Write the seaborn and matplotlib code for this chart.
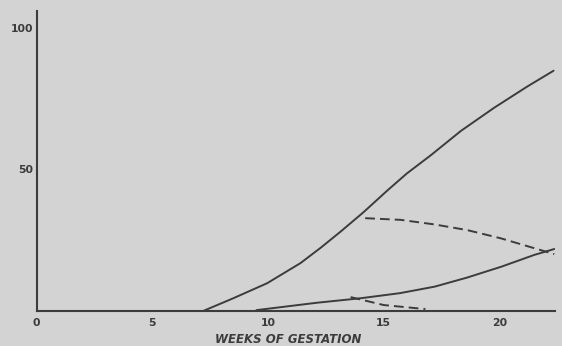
import matplotlib
matplotlib.use("Agg")
import matplotlib.pyplot as plt
import seaborn as sns
import pandas as pd

# Main solid curve
main_x = [7.2, 8.5, 9.96, 11.4, 12.27, 13.13, 14.14, 15.16, 16.0, 17.03, 18.33, 19.77, 21.2, 22.34]
main_y = [0.0, 4.5, 9.8, 16.9, 22.3, 28.0, 35.0, 42.6, 48.6, 55.0, 63.6, 71.8, 79.3, 84.9]

# Upper dashed curve
upd_x = [14.2, 15.73, 17.18, 18.6, 20.05, 21.5, 22.37]
upd_y = [32.8, 32.2, 30.6, 28.6, 25.7, 22.2, 20.1]

# Lower solid curve
low_x = [9.5, 10.7, 12.1, 14.0, 15.7, 17.2, 18.6, 20.1, 21.5, 22.37]
low_y = [0.3, 1.5, 2.9, 4.5, 6.3, 8.6, 11.8, 15.7, 19.8, 21.9]

# Lower dashed curve
lod_x = [13.57, 15.0, 16.45, 16.8]
lod_y = [4.9, 2.1, 0.95, 0.7]

x_ticks = [0, 5, 10, 15, 20]
y_ticks = [50, 100]
x_label = "WEEKS OF GESTATION"

bg = "#d3d3d3"
ink = "#3c3c3c"

sns.set_theme(style="white")
plt.rcParams["font.family"] = ["DejaVu Sans"]

fig = plt.figure(figsize=(5.62, 3.46), dpi=100, facecolor=bg)
ax = fig.add_axes([0.0651, 0.1012, 0.9224, 0.8670])
ax.set_facecolor(bg)

def draw(xs, ys, dashed=False):
    df = pd.DataFrame({"x": xs, "y": ys})
    sns.lineplot(data=df, x="x", y="y", ax=ax, estimator=None, sort=False,
                 color=ink, linewidth=1.4)
    l = ax.lines[-1]
    l.set_solid_joinstyle("round")
    if dashed:
        l.set_dashes((5, 2.6))

draw(main_x, main_y)
draw(upd_x, upd_y, dashed=True)
draw(low_x, low_y)
draw(lod_x, lod_y, dashed=True)

ax.set_xlim(0, 22.4)
ax.set_ylim(0, 106)
ax.set_xticks(x_ticks)
ax.set_yticks(y_ticks)
ax.set_xticklabels([str(t) for t in x_ticks], fontsize=7.8, fontweight="bold", color=ink)
ax.set_yticklabels([str(t) for t in y_ticks], fontsize=7.8, fontweight="bold", color=ink)
ax.tick_params(axis="x", length=0, pad=5)
ax.tick_params(axis="y", length=0, pad=2.5)
ax.set_xlabel(x_label, fontsize=8.5, fontweight="bold", fontstyle="italic", color=ink)
ax.set_ylabel("")
ax.xaxis.set_label_coords(0.485, -0.072)

for s in ["top", "right"]:
    ax.spines[s].set_visible(False)
for s in ["left", "bottom"]:
    ax.spines[s].set_color(ink)
    ax.spines[s].set_linewidth(1.5)
ax.grid(False)

fig.savefig("out.png", dpi=100, facecolor=bg)
